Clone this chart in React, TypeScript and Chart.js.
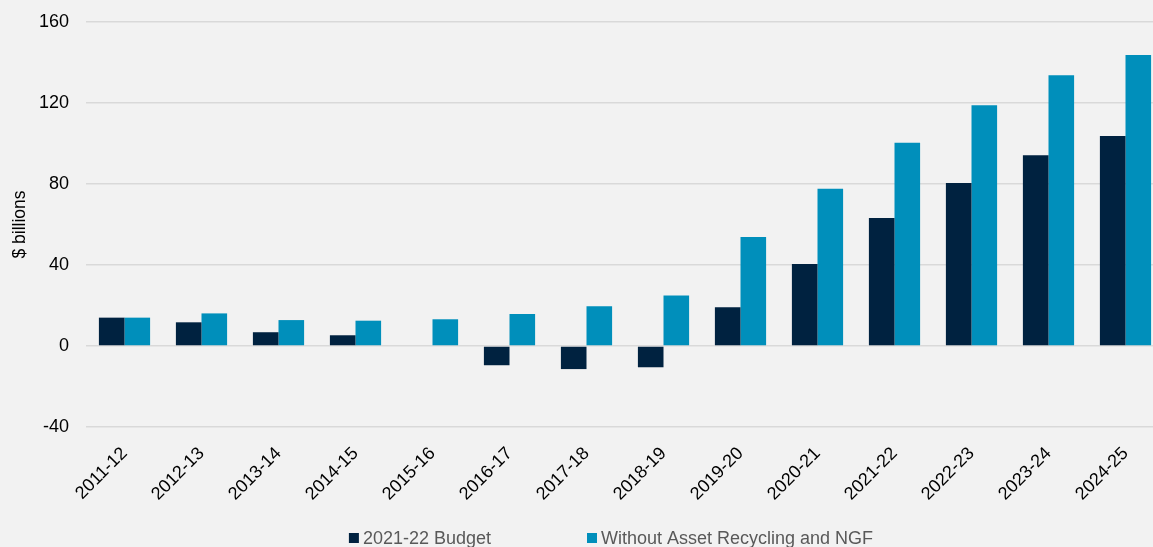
import React, { useEffect, useRef } from "react";
import { Chart, registerables } from "chart.js";

Chart.register(...registerables);

const categories = [
  "2011-12", "2012-13", "2013-14", "2014-15", "2015-16", "2016-17", "2017-18",
  "2018-19", "2019-20", "2020-21", "2021-22", "2022-23", "2023-24", "2024-25",
];
const budget2122 = [14.0, 11.7, 6.8, 5.3, null, -9.5, -11.4, -10.5, 19.1, 40.5, 63.2, 80.5, 94.2, 103.7];
const withoutAssetRecycling = [14.0, 16.1, 12.8, 12.5, 13.2, 15.8, 19.6, 25.0, 53.8, 77.7, 100.4, 118.9, 133.7, 143.7];
const yTickValues = [-40, 0, 40, 80, 120, 160];
const seriesNames = ["2021-22 Budget", "Without Asset Recycling and NGF"];

const FONT = "'Liberation Sans', Arial, sans-serif";
const DARK = "#002240";
const LIGHT = "#008fbb";
const BG = "#f2f2f2";

const legendPlugin = {
  id: "customLegend",
  afterDraw(chart: any) {
    const ctx = chart.ctx;
    ctx.save();
    ctx.font = `18px ${FONT}`;
    ctx.textBaseline = "middle";
    ctx.textAlign = "left";
    const box = 10;
    const gapText = 4;
    const gapItem = 96;
    const centerX = 611;
    const y = 538;
    const items = chart.data.datasets.map((ds: any) => ({
      label: ds.label,
      color: ds.backgroundColor,
      w: box + gapText + ctx.measureText(ds.label).width,
    }));
    const total = items.reduce((s: number, it: any) => s + it.w, 0) + gapItem * (items.length - 1);
    let x = centerX - total / 2;
    for (const it of items) {
      ctx.fillStyle = it.color;
      ctx.fillRect(x, y - box / 2, box, box);
      ctx.fillStyle = "#595959";
      ctx.fillText(it.label, x + box + gapText, y + 1);
      x += it.w + gapItem;
    }
    ctx.restore();
  },
};

export default function App() {
  const ref = useRef<HTMLCanvasElement | null>(null);

  useEffect(() => {
    if (!ref.current) return;
    const chart = new Chart(ref.current, {
      type: "bar",
      data: {
        labels: categories,
        datasets: [
          {
            label: seriesNames[0],
            data: budget2122,
            backgroundColor: DARK,
            borderWidth: 0,
            barPercentage: 1,
            categoryPercentage: 0.665,
          },
          {
            label: seriesNames[1],
            data: withoutAssetRecycling,
            backgroundColor: LIGHT,
            borderWidth: 0,
            barPercentage: 1,
            categoryPercentage: 0.665,
          },
        ],
      },
      options: {
        animation: false,
        responsive: false,
        maintainAspectRatio: false,
        layout: { padding: { top: 22, bottom: 40, left: 0, right: 0 } },
        plugins: {
          legend: { display: false },
          tooltip: { enabled: false },
        },
        scales: {
          x: {
            grid: { display: false, drawTicks: false },
            border: { display: false },
            ticks: {
              color: "#000",
              font: { family: FONT, size: 18 },
              minRotation: 45,
              maxRotation: 45,
              autoSkip: false,
              padding: 16,
            },
            afterFit: (scale: any) => {
              scale.height = 80;
            },
          },
          y: {
            min: -40,
            max: 160,
            afterBuildTicks: (scale: any) => {
              scale.ticks = yTickValues.map((v) => ({ value: v }));
            },
            grid: { color: "#d9d9d9", lineWidth: 1.5, drawTicks: false },
            border: { display: false },
            ticks: {
              color: "#000",
              font: { family: FONT, size: 18 },
              padding: 17,
            },
            title: {
              display: true,
              text: "$ billions",
              color: "#000",
              font: { family: FONT, size: 17.5 },
              padding: { top: 10, bottom: 0 },
            },
            afterFit: (scale: any) => {
              scale.width = 86;
              scale.paddingTop = 10;
              scale.paddingBottom = 10;
            },
          },
        },
      },
      plugins: [legendPlugin],
    });
    return () => chart.destroy();
  }, []);

  return (
    <div
      style={{
        position: "fixed",
        left: 0,
        top: 0,
        width: 1153,
        height: 547,
        overflow: "hidden",
        background: BG,
      }}
    >
      <canvas ref={ref} width={1164} height={547} style={{ display: "block", width: 1164, height: 547 }} />
    </div>
  );
}
